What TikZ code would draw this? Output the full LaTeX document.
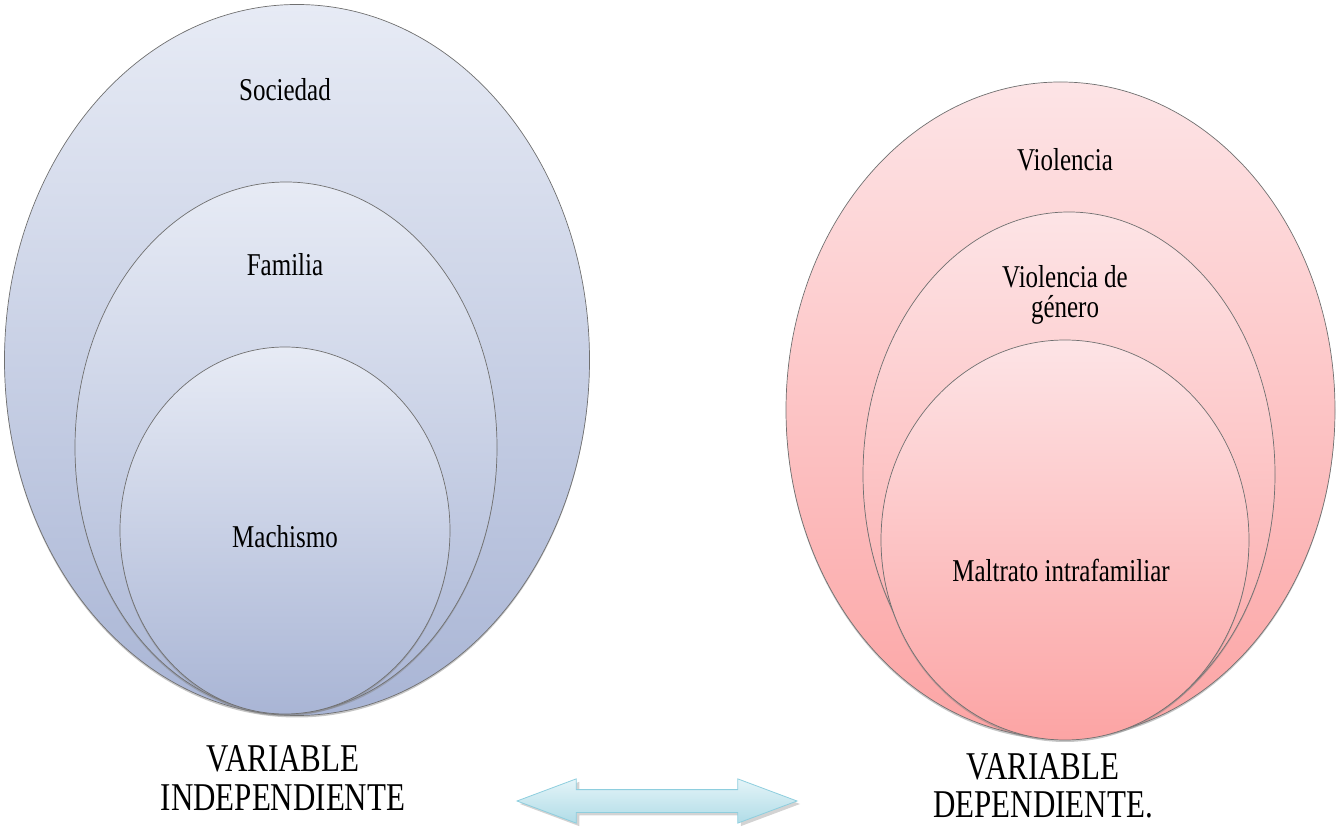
\documentclass[tikz,border=0pt]{standalone}
\usepackage{fontspec}
\setmainfont{Liberation Serif}
\usepackage{tikz}
\usetikzlibrary{positioning, shapes.geometric, shapes.arrows, shadows}

\definecolor{bluetop}{HTML}{E7EBF5}
\definecolor{bluebot}{HTML}{A9B5D5}
\definecolor{redtop}{HTML}{FDE4E6}
\definecolor{redbot}{HTML}{FCA4A4}
\definecolor{rim}{HTML}{707070}
\definecolor{arrowtop}{HTML}{E4F4F8}
\definecolor{arrowbot}{HTML}{B0DCE7}
\definecolor{arrowrim}{HTML}{8ECEDE}

\begin{document}
\begin{tikzpicture}[x=1pt, y=1pt,
  blue/.style = {ellipse, draw=rim, line width=0.7pt, top color=bluetop, bottom color=bluebot, inner sep=0pt,
    drop shadow={shadow xshift=0pt, shadow yshift=-2pt, opacity=0.45}},
  red/.style = {ellipse, draw=rim, line width=0.7pt, top color=redtop, bottom color=redbot, inner sep=0pt,
    drop shadow={shadow xshift=0pt, shadow yshift=-2pt, opacity=0.45}},
  txt/.style = {font=\fontsize{25}{23}\selectfont, align=center, yscale=1.27, inner sep=0pt},
  var/.style = {font=\fontsize{31}{30}\selectfont, align=center, yscale=1.27, inner sep=0pt}]
\useasboundingbox (0,0) rectangle (1339,833);

% independent side
\node[blue, minimum width=585, minimum height=711] (soc) at (297,473) {};
\node[blue, minimum width=422, minimum height=531] (fam) at (286,385.5) {};
\node[blue, minimum width=330, minimum height=367] (mac) at (285,302.5) {};
\node[txt] (t1) at (285,743) {Sociedad};
\node[txt] (t2) at (285,568) {Familia};
\node[txt] (t3) at (285,296) {Machismo};

% dependent side
\node[red, minimum width=549, minimum height=656] (vio) at (1060.5,423) {};
\node[red, minimum width=412, minimum height=525] (gen) at (1069,358.5) {};
\node[red, minimum width=368, minimum height=400] (mal) at (1065,293) {};
\node[txt] (t4) at (1065,673) {Violencia};
\node[txt] (t5) at (1065,538) {Violencia de\\género};
\node[txt] (t6) at (1061,263) {Maltrato intrafamiliar};

% variables
\node[var] (vi) at (283,55) {VARIABLE\\INDEPENDIENTE};
\node[var] (vd) at (1043,47) {VARIABLE\\DEPENDIENTE.};
\node[double arrow, draw=arrowrim, line width=0.8pt, top color=arrowtop, bottom color=arrowbot,
  minimum height=280, inner sep=11pt, double arrow head extend=10.75pt, double arrow tip angle=41,
  drop shadow={shadow xshift=3pt, shadow yshift=-3pt, opacity=0.35}] (arr) at (657,32) {};
\end{tikzpicture}
\end{document}
